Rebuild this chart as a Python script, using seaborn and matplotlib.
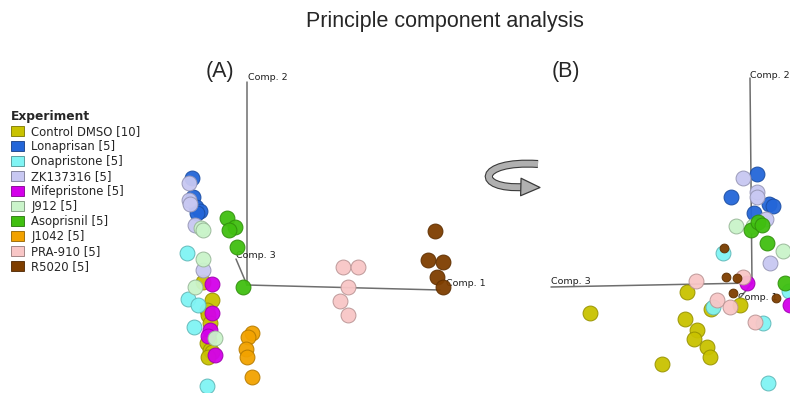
import numpy as np
import pandas as pd
import matplotlib
matplotlib.use('Agg')

import matplotlib.pyplot as plt
import matplotlib.patheffects as pe
import seaborn as sns
from matplotlib.patches import Patch, FancyArrowPatch, PathPatch
from matplotlib.path import Path
from matplotlib.colors import to_rgb

# ── Groups ─────────────────────────────────────────────────────────────────
groups = [
    'Control DMSO [10]',
    'Lonaprisan [5]',
    'Onapristone [5]',
    'ZK137316 [5]',
    'Mifepristone [5]',
    'J912 [5]',
    'Asoprisnil [5]',
    'J1042 [5]',
    'PRA-910 [5]',
    'R5020 [5]',
]

colors = [
    '#c9c200',
    '#2466d8',
    '#80f4f4',
    '#c8c8f2',
    '#d400ea',
    '#caf4ca',
    '#40bf10',
    '#f2a200',
    '#f8c6c6',
    '#7e3e00',
]

# ── View (A): Comp. 1 vs Comp. 2 scores ───────────────────────────────────
a_dmso_x = [-4.4, -3.5, -4.0, -3.9, -3.7, -3.8, -4.0, -3.7, -3.5, -3.9]
a_dmso_y = [0.3, -1.5, -2.5, -3.0, -3.8, -5.5, -5.8, -6.5, -6.7, -7.2]
a_lona_x = [-5.5, -5.4, -5.1, -4.7, -5.0]
a_lona_y = [10.7, 8.8, 7.8, 7.4, 7.2]
a_ona_x = [-6.0, -5.9, -4.9, -5.3, -4.0]
a_ona_y = [3.2, -1.4, -2.0, -4.2, -10.1]
a_zk_x = [-5.8, -5.8, -5.7, -5.2, -4.4]
a_zk_y = [10.2, 8.5, 8.1, 6.0, 1.5]
a_mife_x = [-3.5, -3.5, -3.7, -3.9, -3.2]
a_mife_y = [0.1, -2.8, -4.5, -5.1, -7.0]
a_j912_x = [-4.6, -4.4, -4.4, -5.2, -3.2]
a_j912_y = [5.7, 5.5, 2.6, -0.2, -5.3]
a_aso_x = [-2.0, -1.2, -1.8, -1.0, -0.4]
a_aso_y = [6.7, 5.8, 5.5, 3.8, -0.2]
a_j1042_x = [0.5, 0.1, -0.1, 0.0, 0.5]
a_j1042_y = [-4.8, -5.2, -6.4, -7.2, -9.2]
a_pra_x = [9.6, 11.1, 10.1, 9.3, 10.1]
a_pra_y = [1.8, 1.8, -0.2, -1.6, -3.0]
a_r5020_x = [18.8, 18.1, 19.6, 19.0, 19.6]
a_r5020_y = [5.4, 2.5, 2.3, 0.8, -0.2]

# ── View (B): rotated, Comp. 3 vs Comp. 2 scores ──────────────────────────
b_dmso_x = [-6.5, -1.2, -4.1, -16.2, -6.7, -5.5, -5.8, -4.5, -4.2, -9.0]
b_dmso_y = [-0.9, -2.2, -2.6, -3.0, -3.6, -4.7, -5.6, -6.4, -7.4, -8.1]
b_lona_x = [0.5, -2.1, 1.7, 2.1, 0.2]
b_lona_y = [10.9, 8.6, 7.9, 7.7, 7.0]
b_ona_x = [-2.9, -3.9, 1.1, 1.6, 3.7]
b_ona_y = [3.0, -2.4, -4.0, -10.0, -0.8]
b_zk_x = [-0.9, 0.5, 0.5, 1.4, 1.8]
b_zk_y = [10.5, 9.1, 8.6, 6.4, 2.0]
b_mife_x = [-0.5, 3.8]
b_mife_y = [0.0, -2.2]
b_j912_x = [-1.6, 0.1, 3.1]
b_j912_y = [5.7, 5.7, 3.2]
b_aso_x = [-0.1, 0.6, 1.0, 1.5, 3.3]
b_aso_y = [5.3, 6.1, 5.8, 4.0, 0.0]
b_j1042_x = []
b_j1042_y = []
b_pra_x = [-5.6, -3.5, -2.2, 0.3, -0.9]
b_pra_y = [0.2, -1.7, -2.4, -3.9, 0.6]
b_r5020_x = [-2.8, -2.6, -1.5, -1.9, 2.4]
b_r5020_y = [3.5, 0.6, 0.5, -1.0, -1.5]

# ── Loading axes (end points of the drawn component axes) ──────────────────
a_axis_names = ['Comp. 1', 'Comp. 2', 'Comp. 3']
a_axis_x = [19.3, 0.0, -1.1]
a_axis_y = [-0.5, 20.3, 2.6]

b_axis_names = ['Comp. 1', 'Comp. 2', 'Comp. 3']
b_axis_x = [-1.2, -0.2, -20.1]
b_axis_y = [-1.5, 20.5, -0.4]


def make_frame(xs, ys):
    rows = []
    for g, gx, gy in zip(groups, xs, ys):
        for x, y in zip(gx, gy):
            rows.append({'group': g, 'x': x, 'y': y})
    return pd.DataFrame(rows)


df_a = make_frame(
    [a_dmso_x, a_lona_x, a_ona_x, a_zk_x, a_mife_x,
     a_j912_x, a_aso_x, a_j1042_x, a_pra_x, a_r5020_x],
    [a_dmso_y, a_lona_y, a_ona_y, a_zk_y, a_mife_y,
     a_j912_y, a_aso_y, a_j1042_y, a_pra_y, a_r5020_y]
)

df_b = make_frame(
    [b_dmso_x, b_lona_x, b_ona_x, b_zk_x, b_mife_x,
     b_j912_x, b_aso_x, b_j1042_x, b_pra_x, b_r5020_x],
    [b_dmso_y, b_lona_y, b_ona_y, b_zk_y, b_mife_y,
     b_j912_y, b_aso_y, b_j1042_y, b_pra_y, b_r5020_y]
)


def darker(c, f=0.75):
    r, g, b = to_rgb(c)
    return (r * f, g * f, b * f)


sns.set_style('white')
plt.rcParams['font.family'] = ['DejaVu Sans']

fig = plt.figure(figsize=(7.9, 3.93), dpi=100)

# ── Background layer in pixel units for title / arrow ──────────────────────
bg = fig.add_axes([0, 0, 1, 1], zorder=0)
bg.set_xlim(0, 790)
bg.set_ylim(393, 0)
bg.axis('off')

bg.text(
    445, 22,
    'Principle component analysis',
    fontsize=15.5,
    family='Liberation Sans',
    ha='center',
    va='center'
)

bg.text(220, 72, '(A)', fontsize=15.5, family='Liberation Sans',
        ha='center', va='center')
bg.text(566, 72, '(B)', fontsize=15.5, family='Liberation Sans',
        ha='center', va='center')

# curved rotation arrow: ribbon + head
ribbon = Path(
    [(538, 164), (476, 160), (474, 190), (524, 187)],
    [Path.MOVETO, Path.CURVE4, Path.CURVE4, Path.CURVE4]
)
bg.add_patch(
    PathPatch(
        ribbon,
        facecolor='none',
        edgecolor='#b0b0b0',
        lw=4.2,
        capstyle='butt',
        path_effects=[
            pe.Stroke(linewidth=5.8, foreground='#3a3a3a', capstyle='butt'),
            pe.Normal()
        ]
    )
)
bg.add_patch(
    FancyArrowPatch(
        (521, 187), (540, 187.5),
        arrowstyle='simple,head_width=1.05,head_length=1.15,tail_width=0.01',
        mutation_scale=12,
        facecolor='#b0b0b0',
        edgecolor='#3a3a3a',
        lw=0.9,
        shrinkA=0,
        shrinkB=0
    )
)


def draw_panel(rect, xlim, ylim, df, names, ax_x, ax_y, label_pos, small=None):
    ax = fig.add_axes(rect, zorder=1)
    ax.set_xlim(*xlim)
    ax.set_ylim(*ylim)
    ax.axis('off')

    for nm, ex, ey in zip(names, ax_x, ax_y):
        ax.plot([0, ex], [0, ey], color='#6e6e6e', lw=1.1, zorder=1)
        lx, ly = label_pos[nm]
        ax.text(lx, ly, nm, fontsize=6.8, color='#202020',
                ha='left', va='center', zorder=2)

    for g, c in zip(groups, colors):
        sub = df[df['group'] == g]
        if sub.empty:
            continue
        size = 40 if (small is not None and g == small) else 115
        sns.scatterplot(
            data=sub,
            x='x',
            y='y',
            color=c,
            s=size,
            edgecolor=darker(c),
            linewidth=0.7,
            alpha=0.95,
            legend=False,
            ax=ax,
            zorder=3
        )
    ax.set_xlabel('')
    ax.set_ylabel('')
    return ax


# ── Panel A ────────────────────────────────────────────────────────────────
draw_panel(
    [160 / 790, 0, 310 / 790, 333 / 393],
    (-8.7, 22.3),
    (-10.8, 22.5),
    df_a,
    a_axis_names,
    a_axis_x,
    a_axis_y,
    {'Comp. 1': (19.9, 0.1), 'Comp. 2': (0.1, 20.7), 'Comp. 3': (-1.1, 3.0)}
)

# ── Panel B ────────────────────────────────────────────────────────────────
draw_panel(
    [540 / 790, 0, 250 / 790, 333 / 393],
    (-21.2, 3.8),
    (-11.0, 22.3),
    df_b,
    b_axis_names,
    b_axis_x,
    b_axis_y,
    {'Comp. 1': (-1.4, -1.5), 'Comp. 2': (-0.2, 20.7), 'Comp. 3': (-20.1, 0.1)},
    small='R5020 [5]'
)

# ── Legend ─────────────────────────────────────────────────────────────────
handles = [
    Patch(facecolor=c, edgecolor=darker(c, 0.6), lw=0.6, label=g)
    for g, c in zip(groups, colors)
]

leg = fig.legend(
    handles=handles,
    title='Experiment',
    loc='upper left',
    bbox_to_anchor=(0.004, 1 - 102 / 393),
    frameon=False,
    fontsize=8.4,
    title_fontproperties={'weight': 'bold', 'size': 8.8},
    handlelength=1.1,
    handleheight=1.0,
    handletextpad=0.6,
    labelspacing=0.17,
    borderpad=0.2,
    alignment='left'
)

plt.savefig('out.png', dpi=100)
plt.close()
